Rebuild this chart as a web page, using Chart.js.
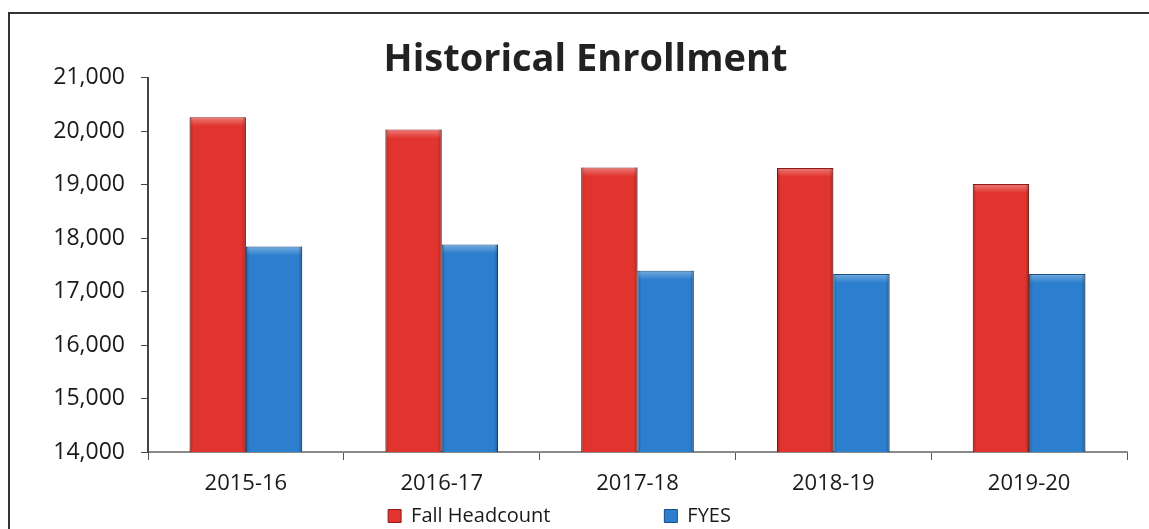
<!DOCTYPE html>
<html>
<head>
<meta charset="utf-8">
<script src="https://cdn.jsdelivr.net/npm/chart.js@4.4.1/dist/chart.umd.min.js"></script>
<style>
  html, body { margin: 0; padding: 0; background: #fff; }
  #wrap { position: relative; width: 1149px; height: 529px; }
  #frame { position: absolute; left: 8px; top: 12px; right: -2px; bottom: -2px;
           border-left: 2px solid #333; border-top: 2px solid #333; pointer-events: none; }
  canvas { position: absolute; left: 0; top: 0; }
</style>
</head>
<body>
<div id="wrap">
  <canvas id="chart" width="1149" height="529"></canvas>
  <div id="frame"></div>
</div>
<script>
// Datos
const years = ['2015-16', '2016-17', '2017-18', '2018-19', '2019-20'];
const fallHeadcount = [20260, 20030, 19320, 19310, 19010];
const fyes = [17840, 17880, 17390, 17330, 17330];
const yTicks = [14000, 15000, 16000, 17000, 18000, 19000, 20000, 21000];

const FONT = '"Open Sans", "DejaVu Sans", sans-serif';

// Relieve tipo Excel sobre cada barra
const bevel = {
  id: 'bevel',
  afterDatasetsDraw(chart) {
    const ctx = chart.ctx;
    const area = chart.chartArea;
    chart.data.datasets.forEach((ds, i) => {
      chart.getDatasetMeta(i).data.forEach(bar => {
        const left = bar.x - bar.width / 2;
        const top = bar.y;
        const w = bar.width;
        const h = Math.min(bar.base, area.bottom) - bar.y;
        ctx.save();
        // franja superior clara
        let g = ctx.createLinearGradient(0, top, 0, top + 9);
        g.addColorStop(0, 'rgba(255,255,255,0.35)');
        g.addColorStop(1, 'rgba(255,255,255,0)');
        ctx.fillStyle = g;
        ctx.fillRect(left + 1, top + 1, w - 2, 9);
        // bordes laterales oscuros
        g = ctx.createLinearGradient(left, 0, left + w, 0);
        g.addColorStop(0, 'rgba(0,0,0,0.22)');
        g.addColorStop(0.07, 'rgba(0,0,0,0)');
        g.addColorStop(0.93, 'rgba(0,0,0,0)');
        g.addColorStop(1, 'rgba(0,0,0,0.28)');
        ctx.fillStyle = g;
        ctx.fillRect(left, top, w, h);
        ctx.restore();
      });
    });
  }
};

new Chart(document.getElementById('chart'), {
  type: 'bar',
  data: {
    labels: years,
    datasets: [
      { label: 'Fall Headcount', data: fallHeadcount, backgroundColor: '#e2342e',
        borderColor: '#8e1c18', borderWidth: 1, barPercentage: 1, categoryPercentage: 0.575 },
      { label: 'FYES', data: fyes, backgroundColor: '#2c7fce',
        borderColor: '#1b4c85', borderWidth: 1, barPercentage: 1, categoryPercentage: 0.575 }
    ]
  },
  options: {
    responsive: false,
    animation: false,
    layout: { padding: { top: 0, right: 22, bottom: -7, left: 44 } },
    scales: {
      x: {
        afterFit: s => { s.height = 44; },
        grid: { drawOnChartArea: false, drawTicks: true, tickLength: 8, color: '#555', offset: true },
        border: { display: true, color: '#8a8a8a', width: 2 },
        ticks: { color: '#1a1a1a', font: { family: FONT, size: 22 }, padding: 11 }
      },
      y: {
        min: 14000,
        max: 21000,
        afterFit: s => { s.width = 104; },
        afterBuildTicks: s => { s.ticks = yTicks.map(v => ({ value: v })); },
        grid: { drawOnChartArea: false, drawTicks: true, tickLength: 7, color: '#444' },
        border: { display: true, color: '#444', width: 2 },
        ticks: { color: '#1a1a1a', font: { family: FONT, size: 23 }, padding: 16,
                 callback: v => v.toLocaleString('en-US') }
      }
    },
    plugins: {
      title: {
        display: true,
        text: 'Historical Enrollment',
        color: '#222',
        font: { family: FONT, size: 38, weight: 'bold' },
        padding: { top: 37, bottom: -5 }
      },
      legend: {
        position: 'bottom',
        labels: {
          color: '#1a1a1a',
          font: { family: FONT, size: 20 },
          boxWidth: 13, boxHeight: 13, padding: 10,
          // separación y centrado de la leyenda como en el original
          generateLabels: chart => {
            const items = Chart.defaults.plugins.legend.labels.generateLabels(chart);
            items.forEach((it, i) => { it.text = it.text + ' '.repeat(i < items.length - 1 ? 20 : 10); });
            return items;
          }
        }
      },
      tooltip: { enabled: false }
    }
  },
  plugins: [bevel]
});
</script>
</body>
</html>
